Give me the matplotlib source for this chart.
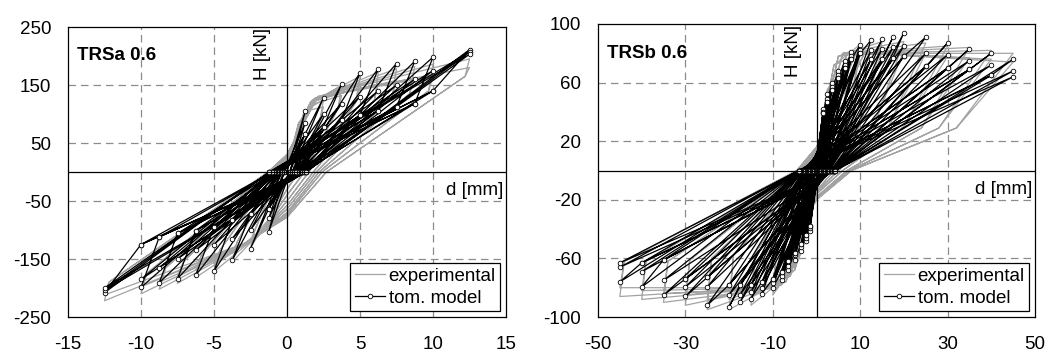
import matplotlib
matplotlib.use("Agg")
import matplotlib.pyplot as plt
from matplotlib.lines import Line2D

plt.rcParams['font.family'] = ['Liberation Sans', 'DejaVu Sans']
plt.rcParams['axes.unicode_minus'] = False

# ---------------- TRSa 0.6 (left) ----------------
# model: amplitude levels, peak forces of the 3 cycles, zero-force crossings
a_amp = [1.25, 2.5, 3.75, 5.0, 6.25, 7.5, 8.75, 10.0, 12.5]
a_H1p = [105, 128, 152, 171, 178, 187, 191, 198, 211]
a_H2p = [85, 100, 118, 130, 140, 150, 160, 175, 207]
a_H3p = [66, 78, 90, 98, 106, 112, 118, 140, 203]
a_H1n = [-103, -132, -152, -171, -178, -184, -191, -199, -208]
a_H2n = [-80, -100, -115, -125, -135, -150, -165, -185, -204]
a_H3n = [-63, -72, -83, -95, -101, -106, -112, -125, -200]
a_zp = [0.2, 0.35, 0.5, 0.65, 0.8, 0.95, 1.05, 1.15, 1.3]
a_zn = [-0.2, -0.35, -0.5, -0.6, -0.7, -0.8, -0.9, -1.0, -1.2]

# experimental loops (peaks of 2 cycles, knees, crossings)
ae_amp = [1.25, 2.5, 3.75, 5.0, 6.25, 7.5, 8.75, 10.0, 12.5]
ae_Hp1 = [100, 125, 150, 165, 172, 178, 182, 186, 195]
ae_Hp2 = [90, 112, 132, 145, 152, 158, 162, 165, 180]
ae_Hn1 = [-100, -130, -155, -172, -182, -192, -202, -210, -222]
ae_Hn2 = [-90, -118, -140, -158, -170, -180, -190, -198, -212]
ae_xup = [1.1, 2.3, 3.5, 4.7, 6.0, 7.2, 8.4, 9.7, 12.2]
ae_Hup = [75, 95, 110, 120, 125, 130, 135, 140, 165]
ae_zp = [0.4, 0.8, 1.2, 1.5, 1.8, 2.0, 2.2, 2.4, 2.7]
ae_yp = [-15, -30, -40, -50, -58, -64, -70, -74, -78]
ae_xkn = [-0.8, -1.2, -1.5, -1.8, -2.0, -2.2, -2.4, -2.6, -2.8]
ae_Hkn = [-60, -80, -95, -105, -110, -115, -118, -120, -122]
ae_xun = [-1.0, -2.2, -3.4, -4.6, -5.9, -7.1, -8.3, -9.6, -12.2]
ae_Hun = [-75, -100, -120, -135, -145, -155, -165, -175, -190]
ae_zn = [-0.3, -0.5, -0.7, -0.8, -0.9, -1.0, -1.1, -1.2, -1.3]
ae_yn = [10, 15, 20, 22, 25, 27, 28, 30, 30]
ae_xkp = [0.8, 1.2, 1.5, 1.6, 1.7, 1.8, 1.9, 2.0, 2.1]
ae_Hkp = [85, 105, 115, 120, 123, 125, 127, 128, 130]

# ---------------- TRSb 0.6 (right) ----------------
b_amp = [1.5, 2.5, 3.5, 5, 6.5, 8, 10, 12.5, 15, 17.5, 20, 25, 30, 35, 40, 45]
b_H1p = [42, 52, 60, 68, 75, 81, 86, 89, 89.5, 91, 94, 91, 87, 83, 80, 76]
b_H2p = [40, 49, 57, 65, 72, 78, 82, 82, 83, 84, 85, 80, 79, 75, 72, 68]
b_H3p = [39, 47, 55, 63, 70, 76, 80, 76, 76, 77, 78, 71, 70, 69, 65, 64]
b_H1n = [-41, -48, -55, -61, -68, -75, -80, -84, -87.5, -90, -93, -92, -86, -85, -79.5, -76]
b_H2n = [-39, -46, -52, -58, -65, -72, -77, -80, -83, -85, -85, -79.5, -79.5, -75, -69, -66]
b_H3n = [-38, -44, -50, -56, -62, -69, -74, -76, -78, -78, -78, -73, -74, -61, -63, -63]
b_zp = [0.3, 0.5, 0.7, 0.9, 1.1, 1.4, 1.7, 2.0, 2.3, 2.6, 2.9, 3.3, 3.6, 3.9, 4.1, 4.3]
b_zn = [-0.3, -0.5, -0.7, -0.9, -1.1, -1.4, -1.7, -2.0, -2.3, -2.6, -2.9, -3.2, -3.5, -3.8, -4.0, -4.1]

be_amp = [2.5, 5, 10, 15, 20, 25, 30, 35, 40, 45]
be_Hp1 = [52, 70, 86, 88, 88, 87, 85, 84, 82, 80]
be_Hp2 = [48, 65, 80, 82, 82, 80, 78, 77, 76, 74]
be_Hn1 = [-50, -68, -85, -92, -95, -95, -92, -90, -88, -86]
be_Hn2 = [-46, -63, -80, -86, -88, -88, -85, -84, -82, -80]
be_xup = [2.0, 3.8, 7.0, 10, 13, 16.5, 20, 24, 28, 32]
be_Hup = [25, 30, 32, 31, 30, 30, 30, 29, 29, 29]
be_zp = [0.5, 1, 2, 3, 4, 5, 6, 7, 7.5, 8]
be_yp = [-5, -8, -10, -12, -14, -15, -16, -18, -19, -20]
be_xkn = [-1.5, -2.5, -4, -5, -6, -7, -8, -9, -10, -11]
be_Hkn = [-30, -45, -60, -68, -72, -76, -78, -80, -80, -80]
be_xun = [-2.2, -4.5, -9, -14, -19, -24, -29, -34, -39, -44]
be_Hun = [-32, -42, -52, -56, -58, -60, -61, -62, -62, -62]
be_zn = [-0.3, -0.6, -1, -1.5, -2, -2.5, -3, -3.5, -4, -4.5]
be_yn = [5, 8, 10, 12, 13, 14, 15, 15, 16, 16]
be_xkp = [1.5, 2.5, 4, 5, 6, 7, 8, 9, 10, 11]
be_Hkp = [35, 55, 72, 78, 80, 80, 80, 80, 80, 80]

FS = 13.5
GREY = '#a3a3a3'


def model_path(amp, H1p, H2p, H3p, H1n, H2n, H3n, zp, zn):
    xs, ys = [0], [0]
    for i in range(len(amp)):
        for c, (hp, hn) in enumerate([(H1p[i], H1n[i]), (H2p[i], H2n[i]), (H3p[i], H3n[i])]):
            if c == 0 and i > 0:
                xs.append(amp[i - 1]); ys.append(H3p[i - 1])
            xs.append(amp[i]); ys.append(hp)
            xs.append(zp[i]); ys.append(0)
            if c == 0 and i > 0:
                xs.append(-amp[i - 1]); ys.append(H3n[i - 1])
            xs.append(-amp[i]); ys.append(hn)
            xs.append(zn[i]); ys.append(0)
    return xs, ys


def exp_path(amp, Hp1, Hp2, Hn1, Hn2, xup, Hup, zp, yp, xkn, Hkn, xun, Hun,
             zn, yn, xkp, Hkp):
    xs, ys = [0], [0]
    for i in range(len(amp)):
        for hp, hn in [(Hp1[i], Hn1[i]), (Hp2[i], Hn2[i])]:
            xs += [xkp[i], amp[i], xup[i], zp[i], 0, xkn[i], -amp[i], xun[i], zn[i], 0]
            ys += [Hkp[i], hp, Hup[i], 0, yp[i], Hkn[i], hn, Hun[i], 0, yn[i]]
    return xs, ys


def draw(ax, ex, ey, mx, my, xlim, ylim, xticks, yticks, title, hx, dlab_y):
    ax.plot(ex, ey, color=GREY, lw=0.9, zorder=2)
    ax.plot(mx, my, color='black', lw=0.9, marker='o', ms=3.3, mfc='white',
            mec='black', mew=0.6, zorder=3)
    ax.set_xlim(xlim)
    ax.set_ylim(ylim)
    ax.set_xticks(xticks)
    ax.set_yticks(yticks)
    for t in xticks[1:-1]:
        if t != 0:
            ax.axvline(t, color='#8c8c8c', lw=0.9, ls=(0, (6, 4)), zorder=1)
    for t in yticks[1:-1]:
        ax.axhline(t, color='#8c8c8c', lw=0.9, ls=(0, (6, 4)), zorder=1)
    ax.axhline(0, color='black', lw=0.9, zorder=4)
    ax.axvline(0, color='black', lw=0.9, zorder=4)
    ax.tick_params(axis='y', length=0, labelsize=FS, pad=12)
    ax.tick_params(axis='x', length=0, labelsize=FS, pad=14)
    for s in ax.spines.values():
        s.set_linewidth(0.9)
    ax.text(0.02, 0.9, title, transform=ax.transAxes, fontsize=FS,
            fontweight='bold', va='center', ha='left')
    ax.text(hx, ylim[1] * 0.995, 'H [kN]', rotation=90,
            fontsize=FS, ha='right', va='top')
    ax.text(xlim[1] * 0.99, dlab_y, 'd [mm]', fontsize=FS, ha='right', va='center')
    handles = [Line2D([], [], color=GREY, lw=0.9),
               Line2D([], [], color='black', lw=0.9, marker='o', ms=3.3,
                      mfc='white', mec='black', mew=0.6)]
    leg = ax.legend(handles, ['experimental', 'tom. model'], loc='lower right',
                    fontsize=FS, fancybox=False, framealpha=1, edgecolor='black',
                    handlelength=1.6, handletextpad=0.2, borderpad=0.25,
                    labelspacing=0.25, borderaxespad=0.3)
    leg.get_frame().set_linewidth(0.9)
    leg.set_zorder(6)


fig = plt.figure(figsize=(10.5, 3.56), dpi=100)
ax1 = fig.add_axes([68 / 1050, 1 - 317 / 356, 438 / 1050, 290 / 356])
ax2 = fig.add_axes([598 / 1050, 1 - 317 / 356, 437 / 1050, 293 / 356])

ex, ey = exp_path(ae_amp, ae_Hp1, ae_Hp2, ae_Hn1, ae_Hn2, ae_xup, ae_Hup, ae_zp,
                  ae_yp, ae_xkn, ae_Hkn, ae_xun, ae_Hun, ae_zn, ae_yn, ae_xkp, ae_Hkp)
mx, my = model_path(a_amp, a_H1p, a_H2p, a_H3p, a_H1n, a_H2n, a_H3n, a_zp, a_zn)
draw(ax1, ex, ey, mx, my, (-15, 15), (-250, 250), [-15, -10, -5, 0, 5, 10, 15],
     [-250, -150, -50, 50, 150, 250], 'TRSa 0.6', -1.1, -32)

ex, ey = exp_path(be_amp, be_Hp1, be_Hp2, be_Hn1, be_Hn2, be_xup, be_Hup, be_zp,
                  be_yp, be_xkn, be_Hkn, be_xun, be_Hun, be_zn, be_yn, be_xkp, be_Hkp)
mx, my = model_path(b_amp, b_H1p, b_H2p, b_H3p, b_H1n, b_H2n, b_H3n, b_zp, b_zn)
draw(ax2, ex, ey, mx, my, (-50, 50), (-100, 100), [-50, -30, -10, 10, 30, 50],
     [-100, -60, -20, 20, 60, 100], 'TRSb 0.6', -3.3, -13)

fig.savefig('out.png', dpi=100)
